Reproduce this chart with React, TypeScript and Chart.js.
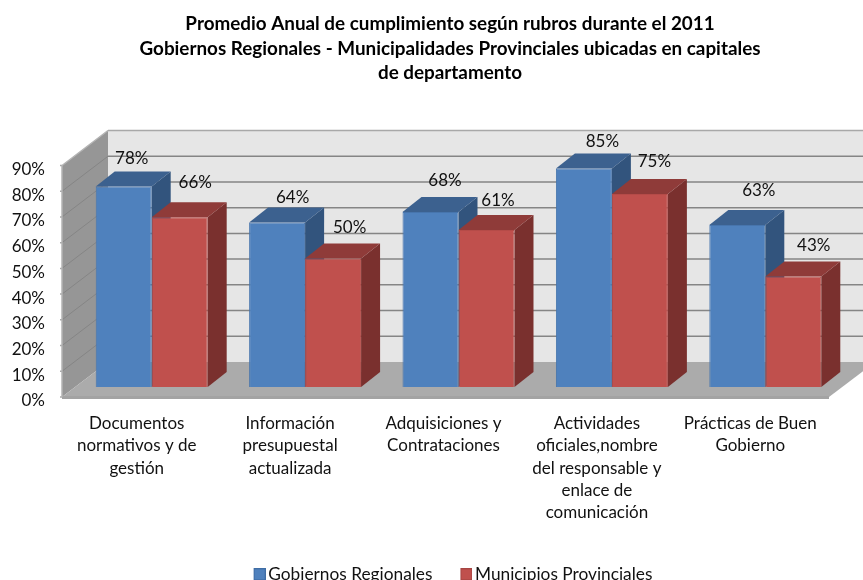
import React, { useEffect, useRef } from "react";
import { Chart, registerables } from "chart.js";

Chart.register(...registerables);

const titleLines = [
  "Promedio Anual de cumplimiento según rubros durante el 2011",
  "Gobiernos Regionales - Municipalidades Provinciales ubicadas en capitales",
  "de departamento",
];
const categories = [
  ["Documentos", "normativos y de", "gestión"],
  ["Información", "presupuestal", "actualizada"],
  ["Adquisiciones y", "Contrataciones"],
  ["Actividades", "oficiales,nombre", "del responsable y", "enlace de", "comunicación"],
  ["Prácticas de Buen", "Gobierno"],
];
const gobiernosRegionales = [78, 64, 68, 85, 63];
const municipiosProvinciales = [66, 50, 61, 75, 43];

const FONT = "Lato, Carlito, sans-serif";
const BLUE = "#4f81bd";
const RED = "#c0504d";
const WALL_FRONT = { dx: -13, dy: 10 };
const WALL_BACK = { dx: 33, dy: -25 };
const BAR_DEPTH = { dx: 19, dy: -15 };
// small per-label nudges: the original labels were placed by hand
const labelNudge = [
  [[-7.5, 3], [0, -4]],
  [[0, 6], [1, 0]],
  [[-1, -1], [-4, 1]],
  [[3, 4], [-1, -2]],
  [[6, -4], [5, 0]],
];

function poly(ctx: CanvasRenderingContext2D, pts: number[][], fill: string) {
  ctx.beginPath();
  pts.forEach(([x, y], i) => (i ? ctx.lineTo(x, y) : ctx.moveTo(x, y)));
  ctx.closePath();
  ctx.fillStyle = fill;
  ctx.fill();
}

function legendSwatch(fill: string, edge: string) {
  const c = document.createElement("canvas");
  c.width = 24;
  c.height = 12;
  const g = c.getContext("2d") as CanvasRenderingContext2D;
  g.fillStyle = fill;
  g.fillRect(12, 0, 12, 12);
  g.strokeStyle = edge;
  g.strokeRect(12.5, 0.5, 11, 11);
  return c;
}

const box3d = {
  id: "box3d",
  afterLayout(chart: any) {
    // the original centres title and legend on the page's plot block, not on the canvas
    chart.titleBlock.left = 37;
    chart.titleBlock.right = 863;
    chart.legend.left = 37;
    chart.legend.right = 863;
  },
  beforeDatasetsDraw(chart: any) {
    const { ctx, chartArea: a, scales } = chart;
    const y = scales.y;
    const y0 = y.getPixelForValue(0);
    const yMax = y.getPixelForValue(90);
    const fl = a.left + WALL_FRONT.dx;
    const fr = a.right + WALL_FRONT.dx;
    const bl = a.left + WALL_BACK.dx;
    const br = a.right + WALL_BACK.dx;
    const fy = (py: number) => py + WALL_FRONT.dy;
    const by = (py: number) => py + WALL_BACK.dy;
    ctx.save();
    poly(ctx, [[bl, by(yMax)], [br, by(yMax)], [br, by(y0)], [bl, by(y0)]], "#e6e6e6");
    poly(ctx, [[fl, fy(yMax)], [bl, by(yMax)], [bl, by(y0)], [fl, fy(y0)]], "#969696");
    poly(ctx, [[fl, fy(y0)], [bl, by(y0)], [br, by(y0)], [fr, fy(y0)]], "#ababab");
    ctx.fillStyle = "#a3a3a3";
    ctx.fillRect(fl, fy(y0) - 1, fr - fl, 3);
    y.ticks.forEach((t: any) => {
      const p = y.getPixelForValue(t.value);
      ctx.lineWidth = 1.5;
      ctx.strokeStyle = t.value === 90 ? "#a8a8a8" : "#858585";
      if (t.value > 0) {
        ctx.beginPath();
        ctx.moveTo(bl, by(p));
        ctx.lineTo(br, by(p));
        ctx.stroke();
      }
      ctx.strokeStyle = "#858585";
      ctx.lineWidth = 1;
      if (t.value > 0 && t.value < 90) {
        ctx.beginPath();
        ctx.moveTo(fl, fy(p));
        ctx.lineTo(bl, by(p));
        ctx.stroke();
      }
      ctx.strokeStyle = "#a8a8a8";
      ctx.lineWidth = 1.5;
      ctx.beginPath();
      ctx.moveTo(fl - 2, fy(p));
      ctx.lineTo(fl, fy(p));
      ctx.stroke();
    });
    ctx.strokeStyle = "#b4b4b4";
    ctx.lineWidth = 1.5;
    ctx.beginPath();
    ctx.moveTo(fl, fy(y0));
    ctx.lineTo(fl, fy(yMax));
    ctx.lineTo(bl, by(yMax));
    ctx.stroke();
    const faces = [
      { top: "#3c618f", side: "#32547d" },
      { top: "#8f3b39", side: "#7a302e" },
    ];
    chart.data.datasets.forEach((_: any, di: number) => {
      chart.getDatasetMeta(di).data.forEach((bar: any) => {
        const l = bar.x - bar.width / 2;
        const r = bar.x + bar.width / 2;
        const t = bar.y;
        const { dx, dy } = BAR_DEPTH;
        poly(ctx, [[r, t], [r + dx, t + dy], [r + dx, y0 + dy], [r, y0]], faces[di].side);
        poly(ctx, [[l, t], [l + dx, t + dy], [r + dx, t + dy], [r, t]], faces[di].top);
      });
    });
    ctx.restore();
  },
  afterDatasetsDraw(chart: any) {
    const { ctx } = chart;
    ctx.save();
    ctx.font = `17px ${FONT}`;
    ctx.fillStyle = "#111111";
    ctx.textAlign = "center";
    ctx.textBaseline = "middle";
    chart.data.datasets.forEach((ds: any, di: number) => {
      chart.getDatasetMeta(di).data.forEach((bar: any, i: number) => {
        const [nx, ny] = labelNudge[i][di];
        ctx.fillText(
          `${ds.data[i]}%`,
          bar.x + BAR_DEPTH.dx / 2 + 6 + nx,
          bar.y + BAR_DEPTH.dy - 15.5 + ny
        );
      });
    });
    ctx.restore();
  },
};

export default function App() {
  const ref = useRef<HTMLCanvasElement>(null);
  useEffect(() => {
    const swatches = [legendSwatch(BLUE, "#3f6da5"), legendSwatch(RED, "#a64542")];
    const chart = new Chart(ref.current as HTMLCanvasElement, {
      type: "bar",
      data: {
        labels: categories,
        datasets: [
          {
            label: "Gobiernos Regionales",
            data: gobiernosRegionales,
            backgroundColor: BLUE,
            borderColor: "#4775ad",
            borderWidth: 1,
          },
          {
            label: "Municipios Provinciales",
            data: municipiosProvinciales,
            backgroundColor: RED,
            borderColor: "#b54b48",
            borderWidth: 1,
          },
        ],
      },
      options: {
        responsive: false,
        animation: false,
        layout: { padding: { left: 10, right: 21, top: 0, bottom: -13 } },
        datasets: { bar: { barPercentage: 1, categoryPercentage: 0.73 } },
        scales: {
          x: {
            grid: { display: false },
            border: { display: false },
            afterFit: (s: any) => {
              s.height = 156.7;
            },
            ticks: {
              autoSkip: false,
              maxRotation: 0,
              minRotation: 0,
              padding: 17,
              labelOffset: -15,
              color: "#111111",
              font: { family: FONT, size: 17, lineHeight: 1.32 },
            },
          },
          y: {
            min: 0,
            max: 90,
            grid: { display: false, drawTicks: false },
            border: { display: false },
            afterFit: (s: any) => {
              s.width = 65;
            },
            ticks: {
              stepSize: 10,
              padding: 30,
              labelOffset: 14,
              color: "#111111",
              font: { family: FONT, size: 17 },
              callback: (v: any) => `${v}%`,
            },
          },
        },
        plugins: {
          title: {
            display: true,
            text: titleLines,
            color: "#000000",
            font: { family: FONT, size: 18.85, weight: "bold", lineHeight: 1.3 },
            padding: { top: 12, bottom: 70 },
          },
          legend: {
            position: "bottom",
            labels: {
              boxWidth: 12,
              boxHeight: 12,
              padding: 22,
              color: "#111111",
              usePointStyle: true,
              font: { family: FONT, size: 17.3 },
              generateLabels: (c: any) =>
                Chart.defaults.plugins.legend.labels
                  .generateLabels(c)
                  .map((it: any, i: number) => ({ ...it, pointStyle: swatches[i] })),
            },
          },
          tooltip: { enabled: false },
        },
      } as any,
      plugins: [box3d],
    });
    return () => chart.destroy();
  }, []);
  return (
    <canvas
      ref={ref}
      width={863}
      height={580}
      style={{ position: "fixed", left: 0, top: 0, display: "block", background: "#ffffff" }}
    />
  );
}
